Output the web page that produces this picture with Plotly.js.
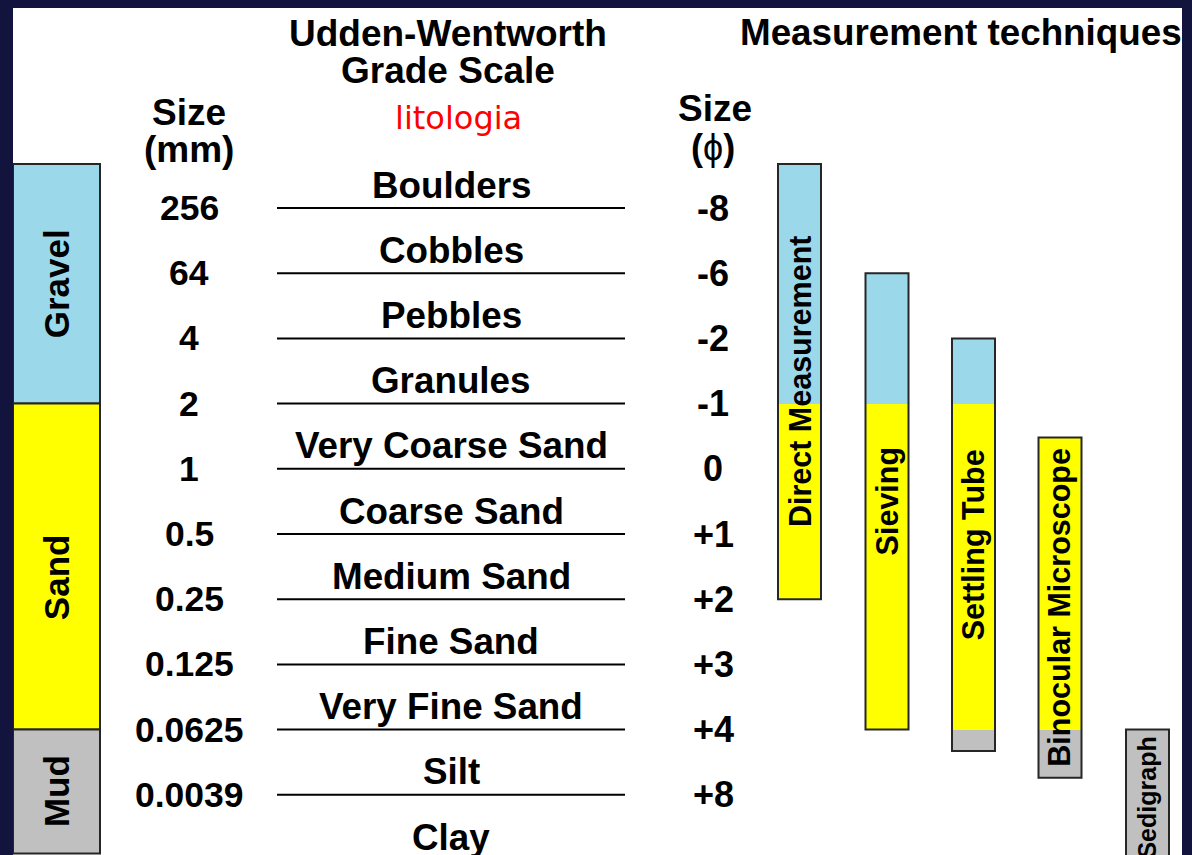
<!DOCTYPE html>
<html>
<head>
<meta charset="utf-8">
<script src="https://cdn.plot.ly/plotly-3.0.1.min.js"></script>
<style>
  html, body { margin: 0; padding: 0; background: #12143e; }
  #chart { width: 1192px; height: 855px; }
</style>
</head>
<body>
<div id="chart"></div>
<script>
// ---------------- DATA ----------------
const sizesMm = ['256', '64', '4', '2', '1', '0.5', '0.25', '0.125', '0.0625', '0.0039'];
const sizesPhi = ['-8', '-6', '-2', '-1', '0', '+1', '+2', '+3', '+4', '+8'];
const gradeClasses = ['Boulders', 'Cobbles', 'Pebbles', 'Granules', 'Very Coarse Sand',
  'Coarse Sand', 'Medium Sand', 'Fine Sand', 'Very Fine Sand', 'Silt', 'Clay'];
// sediment groups, extents in grade-boundary index units (0 = 256 mm boundary)
const sedimentGroups = ['Gravel', 'Sand', 'Mud'];
const groupTop = [-0.675, 3, 8];
const groupBottom = [3, 8, 9.9];
// measurement techniques, extents in grade-boundary index units
const techniques = ['Direct Measurement', 'Sieving', 'Settling Tube', 'Binocular Microscope', 'Sedigraph'];
const techTop = [-0.675, 1, 2, 3.52, 8];
const techBottom = [6, 8, 8.33, 8.74, 10.1];

// ---------------- LAYOUT HELPERS ----------------
const PX0 = 208, STEP = 65.2;            // pixel of boundary 0 and spacing
const py = p => (p - PX0) / STEP;         // page pixel -> y index (for header placement)
const groupColors = ['#9bd9ea', '#ffff00', '#c0c0c0'];
const edge = '#262626';
const FONT = 'Liberation Sans, Arial, Helvetica, sans-serif';
const groupX = 56.5, groupW = 87;
const groupLabelShift = [0, 0.17, 0];     // label offsets (index units)
const techX = [799.5, 887, 973.5, 1060, 1147.5], techW = 43;
const techFont = [30.5, 30.5, 30.5, 30.5, 25];
const mmX = 189, phiX = 713, classX = 451;
const lineX0 = 277, lineX1 = 625;

const traces = [];

// left column: sediment groups
traces.push({
  type: 'bar', x: sedimentGroups.map(() => groupX), base: groupTop,
  y: groupTop.map((t, i) => groupBottom[i] - t),
  width: sedimentGroups.map(() => groupW),
  marker: { color: groupColors, line: { color: edge, width: 2 } },
  hoverinfo: 'skip', showlegend: false
});

// technique bars split by group colour
const bounds = [-Infinity, groupBottom[0], groupBottom[1], Infinity];
for (let g = 0; g < 3; g++) {
  const xs = [], bs = [], ys = [], ws = [];
  techniques.forEach((t, i) => {
    const a = Math.max(techTop[i], bounds[g]);
    const b = Math.min(techBottom[i], bounds[g + 1]);
    if (b > a) { xs.push(techX[i]); bs.push(a); ys.push(b - a); ws.push(techW); }
  });
  traces.push({
    type: 'bar', x: xs, base: bs, y: ys, width: ws,
    marker: { color: groupColors[g], line: { width: 0 } },
    hoverinfo: 'skip', showlegend: false
  });
}
// technique outlines
traces.push({
  type: 'bar', x: techX, base: techTop, y: techTop.map((t, i) => techBottom[i] - t),
  width: techniques.map(() => techW),
  marker: { color: 'rgba(0,0,0,0)', line: { color: edge, width: 2 } },
  hoverinfo: 'skip', showlegend: false
});

// grade boundary lines
const lx = [], ly = [];
sizesMm.forEach((s, k) => { lx.push(lineX0, lineX1, null); ly.push(k, k, null); });
traces.push({
  type: 'scatter', mode: 'lines', x: lx, y: ly,
  line: { color: '#000', width: 2 }, hoverinfo: 'skip', showlegend: false
});

// ---------------- ANNOTATIONS ----------------
const ann = [];
const txt = (x, y, text, size, opts = {}) => ann.push(Object.assign({
  x, y, xref: 'x', yref: 'y', text, showarrow: false,
  xanchor: 'center', yanchor: 'middle',
  font: { family: FONT, size, color: '#000' }
}, opts));

// headers
txt(448, py(33), '<b>Udden-Wentworth</b>', 37);
txt(448, py(70), '<b>Grade Scale</b>', 37);
txt(961, py(32), '<b>Measurement techniques</b>', 36.8);
txt(mmX, py(112), '<b>Size</b>', 37);
txt(mmX, py(149), '<b>(mm)</b>', 37);
txt(715, py(108), '<b>Size</b>', 37);
txt(713, py(147), '<b>(</b>ϕ<b>)</b>', 36);
txt(458, py(118), 'litologia', 32, { font: { family: 'DejaVu Sans, Verdana, sans-serif', size: 32, color: '#ff0000' } });

// size labels
sizesMm.forEach((s, k) => txt(mmX, k, '<b>' + s + '</b>', 35.5));
sizesPhi.forEach((s, k) => txt(phiX, k, '<b>' + s + '</b>', 36));
// class names
gradeClasses.forEach((c, k) => txt(classX, k - 0.35, '<b>' + c + '</b>', 36.8));
// group labels
sedimentGroups.forEach((g, i) => txt(groupX, (groupTop[i] + groupBottom[i]) / 2 + groupLabelShift[i],
  '<b>' + g + '</b>', 35, { textangle: -90 }));
// technique labels
techniques.forEach((t, i) => txt(techX[i], (techTop[i] + techBottom[i]) / 2, '<b>' + t + '</b>', techFont[i], { textangle: -90 }));

const layout = {
  width: 1192, height: 855,
  margin: { l: 13, r: 10, t: 8, b: 0, pad: 0 },
  paper_bgcolor: '#12143e', plot_bgcolor: '#ffffff',
  barmode: 'overlay', bargap: 0,
  xaxis: { range: [13, 1182], visible: false, showgrid: false, zeroline: false, fixedrange: true },
  yaxis: { range: [py(855), py(8)], visible: false, showgrid: false, zeroline: false, fixedrange: true },
  annotations: ann, showlegend: false
};

Plotly.newPlot('chart', traces, layout, { displayModeBar: false, staticPlot: true });
</script>
</body>
</html>
